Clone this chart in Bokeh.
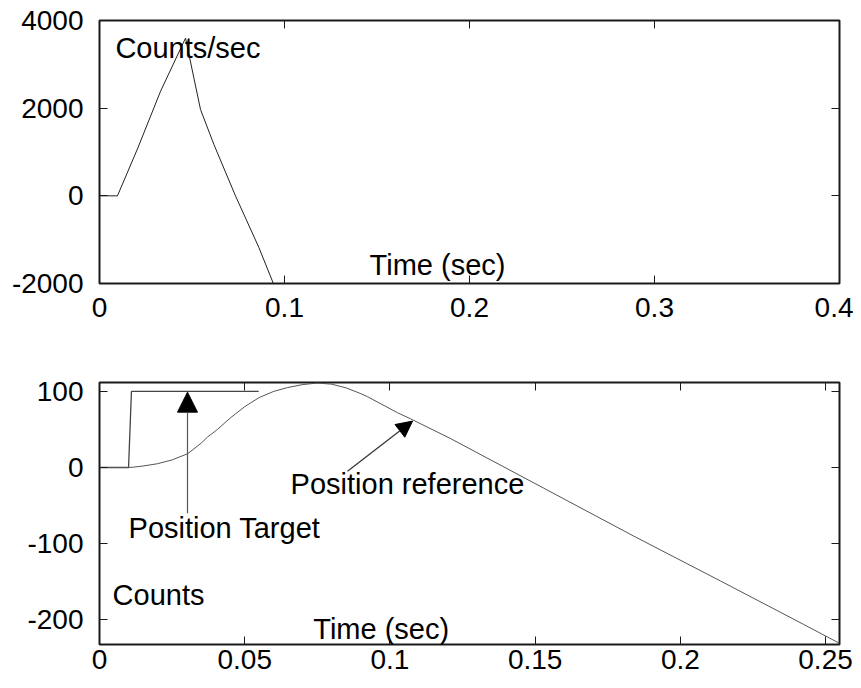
from bokeh.plotting import figure
from bokeh.models import Range1d, FixedTicker, LinearAxis, Label, Arrow, NormalHead
from bokeh.layouts import column
from bokeh.embed import file_html
from bokeh.resources import INLINE

# ---------------- data ----------------
# top: velocity (counts/sec) vs time (sec)
vel_t = [0.0, 0.0097, 0.0205, 0.033, 0.0465, 0.0546, 0.0618, 0.0735, 0.0861, 0.0942, 0.0975]
vel_v = [0, 0, 1068, 2386, 3598, 1970, 1175, 0, -1174, -2023, -2350]
top_xticks = [0, 0.1, 0.2, 0.3, 0.4]
top_xlabels = ["0", "0.1", "0.2", "0.3", "0.4"]
top_yticks = [-2000, 0, 2000, 4000]
top_ylabels = ["-2000", "0", "2000", "4000"]

# bottom: position target and position reference (counts) vs time (sec)
target_t = [0.0, 0.0100, 0.0110, 0.0548]
target_y = [0, 0, 100, 100]
ref_t = [0.0, 0.010, 0.0117, 0.015, 0.020, 0.025, 0.0303, 0.0350, 0.0372, 0.0406,
         0.045, 0.050, 0.055, 0.0600, 0.0647, 0.070, 0.075, 0.080, 0.085, 0.090,
         0.0923, 0.1026, 0.1071, 0.1209, 0.1529, 0.1839, 0.2138, 0.2424, 0.2548]
ref_y = [0, 0, 0.5, 2, 5, 10, 18, 32, 40, 50,
         65, 80, 92, 100, 105, 109, 111, 109.5, 104.5, 97,
         93, 72, 64, 38, -27, -90, -149, -206, -231]
bot_xticks = [0, 0.05, 0.1, 0.15, 0.2, 0.25]
bot_xlabels = ["0", "0.05", "0.1", "0.15", "0.2", "0.25"]
bot_yticks = [-200, -100, 0, 100]
bot_ylabels = ["-200", "-100", "0", "100"]

FONT = "Liberation Sans"
TICK_FS = "28px"
TEXT_FS = "29px"
FRAME = "#1a1a1a"


def mirror_axis(ticks):
    return LinearAxis(ticker=FixedTicker(ticks=ticks, minor_ticks=[]),
                      major_label_text_font_size="1px", major_label_text_color=None,
                      major_label_standoff=0,
                      major_tick_in=8, major_tick_out=0, axis_line_color=None,
                      major_tick_line_color=FRAME, minor_tick_line_color=None)


def style(p, xticks, xlabels, yticks, ylabels, xstand):
    p.grid.visible = False
    p.outline_line_color = FRAME
    p.outline_line_width = 2
    p.xaxis.ticker = FixedTicker(ticks=xticks, minor_ticks=[])
    p.yaxis.ticker = FixedTicker(ticks=yticks, minor_ticks=[])
    p.xaxis.major_label_overrides = dict(zip(xticks, xlabels))
    p.yaxis.major_label_overrides = dict(zip(yticks, ylabels))
    for ax in (p.xaxis[0], p.yaxis[0]):
        ax.axis_line_color = None
        ax.major_tick_in = 8
        ax.major_tick_out = 0
        ax.major_tick_line_color = FRAME
        ax.major_tick_line_width = 1
        ax.minor_tick_line_color = None
        ax.major_label_text_font = FONT
        ax.major_label_text_font_size = TICK_FS
        ax.major_label_text_color = "black"
    p.xaxis[0].major_label_standoff = xstand
    p.yaxis[0].major_label_standoff = 16
    p.add_layout(mirror_axis(xticks), "above")
    p.add_layout(mirror_axis(yticks), "right")


def label(p, x, y, text, align="left"):
    p.add_layout(Label(x=x, y=y, text=text, text_font=FONT, text_font_size=TEXT_FS,
                       text_baseline="middle", text_align=align, text_color="black"))


# ---------------- top figure ----------------
p1 = figure(frame_width=740, frame_height=263,
            x_range=Range1d(0, 0.4), y_range=Range1d(-2000, 4000),
            output_backend="svg", toolbar_location=None,
            min_border_left=99, min_border_right=14, min_border_top=20, min_border_bottom=50)
style(p1, top_xticks, top_xlabels, top_yticks, top_ylabels, 14)
p1.line(vel_t, vel_v, line_color="#222222", line_width=1)
label(p1, 0.0086, 3364, "Counts/sec")
label(p1, 0.1827, -1568, "Time (sec)", align="center")

# ---------------- bottom figure ----------------
p2 = figure(frame_width=740, frame_height=262,
            x_range=Range1d(0, 0.2548), y_range=Range1d(-232.5, 111.7),
            output_backend="svg", toolbar_location=None,
            min_border_left=99, min_border_right=14, min_border_top=49, min_border_bottom=42)
style(p2, bot_xticks, bot_xlabels, bot_yticks, bot_ylabels, 5)
p2.line(target_t, target_y, line_color="#444444", line_width=1.3)
p2.line(ref_t, ref_y, line_color="#555555", line_width=1)

p2.add_layout(Arrow(x_start=0.0303, y_start=-60, x_end=0.0303, y_end=99,
                    line_color="#555555", line_width=1.2,
                    end=NormalHead(size=20, fill_color="black", line_color="black")))
p2.add_layout(Arrow(x_start=0.0854, y_start=-5, x_end=0.1078, y_end=61,
                    line_color="#333333", line_width=1.2,
                    end=NormalHead(size=16, fill_color="black", line_color="black")))

label(p2, 0.0100, -79, "Position Target")
label(p2, 0.0658, -21, "Position reference")
label(p2, 0.0045, -167.5, "Counts")
label(p2, 0.097, -212, "Time (sec)", align="center")

layout = column(p1, p2, spacing=0)
open("out.html", "w").write(file_html(layout, INLINE))
